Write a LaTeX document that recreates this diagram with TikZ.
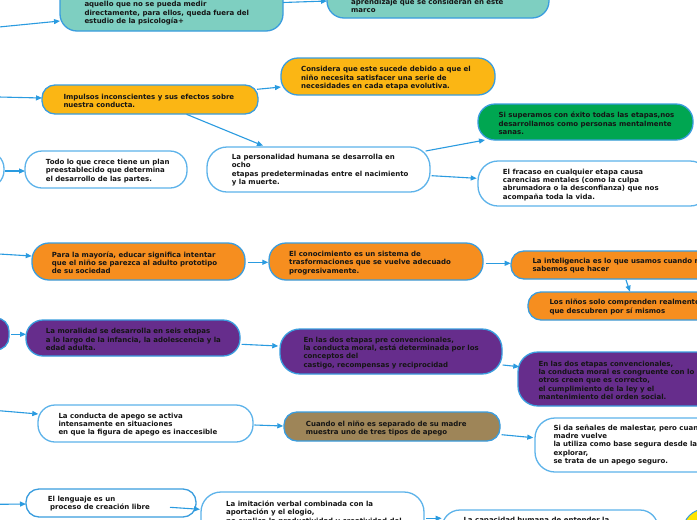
\documentclass[tikz,border=0pt]{standalone}
\usepackage{fontspec}
\setmainfont{DejaVu Sans}
\usetikzlibrary{calc,arrows.meta}
\definecolor{tealc}{HTML}{7ECFC1}
\definecolor{yelc}{HTML}{FBB614}
\definecolor{grnc}{HTML}{00A651}
\definecolor{orgc}{HTML}{F68E1F}
\definecolor{purc}{HTML}{662D8C}
\definecolor{brnc}{HTML}{9E8558}
\definecolor{bordc}{HTML}{3A9DDE}
\definecolor{lbordc}{HTML}{5DB3EA}
\definecolor{arrc}{HTML}{2A9BE0}
\definecolor{txtc}{HTML}{151515}
\definecolor{circc}{HTML}{FFE500}
\begin{document}
\begin{tikzpicture}[x=1pt,y=-1pt,
  box/.style={draw=bordc, line width=1.3pt, rectangle, rounded corners=17pt, inner sep=0pt},
  sbox/.style={box, rounded corners=13pt},
  tealbox/.style={box, fill=tealc},
  yelbox/.style={box, fill=yelc},
  grnbox/.style={box, fill=grnc},
  orgbox/.style={box, fill=orgc},
  purbox/.style={box, fill=purc},
  brnbox/.style={box, fill=brnc},
  whtbox/.style={box, draw=lbordc, fill=white},
  txt/.style={anchor=west, align=left, inner sep=0pt, font=\fontsize{7}{8.4}\selectfont\bfseries, text=txtc},
  arr/.style={draw=arrc, line width=1.1pt, -{Triangle[length=6pt,width=5pt]}}
]
\useasboundingbox (0,0) rectangle (697,520);
\fill[white] (0,0) rectangle (697,520);
\clip (0,0) rectangle (697,520);

% boxes
\node[tealbox, minimum width=223pt, minimum height=61pt] (A) at (171.5,0.5) {};
\node[tealbox, minimum width=222pt, minimum height=38pt] (B) at (438,-1) {};
\node[yelbox, minimum width=214pt, minimum height=37pt] (C) at (388,76.5) {};
\node[yelbox, sbox, minimum width=216pt, minimum height=29pt] (D) at (150,99.5) {};
\node[whtbox, minimum width=223pt, minimum height=45pt, rounded corners=20pt] (E) at (318.5,169.5) {};
\node[grnbox, minimum width=215pt, minimum height=36pt] (F) at (585.5,122) {};
\node[whtbox, minimum width=232pt, minimum height=45pt, rounded corners=20pt] (G) at (594,183.5) {};
\node[whtbox, minimum width=44pt, minimum height=36pt] (H) at (-18,169.5) {};
\node[whtbox, minimum width=162pt, minimum height=37pt] (I) at (106,169.5) {};
\node[orgbox, minimum width=213pt, minimum height=37pt] (J) at (138.5,261.5) {};
\node[orgbox, minimum width=214pt, minimum height=37pt] (K) at (376,261.5) {};
\node[orgbox, sbox, minimum width=209pt, minimum height=28pt] (L) at (615.5,265) {};
\node[orgbox, sbox, minimum width=212pt, minimum height=28pt] (M) at (634,306) {};
\node[purbox, sbox, minimum width=49pt, minimum height=32pt] (N) at (-15.5,334) {};
\node[purbox, minimum width=214pt, minimum height=36pt] (O) at (133,338) {};
\node[purbox, minimum width=222pt, minimum height=45pt, rounded corners=20pt] (P) at (391,351.5) {};
\node[purbox, minimum width=222pt, minimum height=54pt, rounded corners=20pt] (Q) at (629,379) {};
\node[whtbox, minimum width=215pt, minimum height=37pt] (R) at (145.5,423.5) {};
\node[brnbox, sbox, minimum width=216pt, minimum height=29pt] (S) at (392,426.5) {};
\node[whtbox, minimum width=205pt, minimum height=54pt, rounded corners=20pt] (T) at (637.5,445) {};
\node[whtbox, sbox, minimum width=170pt, minimum height=28pt] (U) at (111,503) {};
\node[whtbox, minimum width=223pt, minimum height=53pt, rounded corners=20pt] (V) at (312.5,518.5) {};
\node[whtbox, minimum width=216pt, minimum height=40pt, rounded corners=18pt] (W) at (550,530) {};
\node[circle, draw=bordc, line width=1pt, fill=circc, minimum size=44pt, inner sep=0pt] (X) at (705,531) {};

% texts
\node[txt] (At) at (84.3,13.2) {aquello que no se pueda medir\\directamente, para ellos, queda fuera del\\estudio de la psicología+};
\node[txt] (Bt) at (351,5.6) {aprendizaje que se consideran en este\\marco};
\node[txt] (Ct) at (301,78.2) {Considera que este sucede debido a que el\\niño necesita satisfacer una serie de\\necesidades en cada etapa evolutiva.};
\node[txt] (Dt) at (63.3,100.6) {Impulsos inconscientes y sus efectos sobre\\nuestra conducta.};
\node[txt] (Et) at (231.7,170.2) {La personalidad humana se desarrolla en\\ocho\\etapas predeterminadas entre el nacimiento\\y la muerte.};
\node[txt] (Ft) at (498.3,123.6) {Si superamos con éxito todas las etapas,nos\\desarrollamos como personas mentalmente\\sanas.};
\node[txt] (Gt) at (502.7,184.8) {El fracaso en cualquier etapa causa\\carencias mentales (como la culpa\\abrumadora o la desconfianza) que nos\\acompaña toda la vida.};
\node[txt] (It) at (45.7,170.8) {Todo lo que crece tiene un plan\\preestablecido que determina\\el desarrollo de las partes.};
\node[txt] (Jt) at (51.7,262.8) {Para la mayoría, educar significa intentar\\que el niño se parezca al adulto prototipo\\de su sociedad};
\node[txt] (Kt) at (289,262.8) {El conocimiento es un sistema de\\trasformaciones que se vuelve adecuado\\progresivamente.};
\node[txt] (Lt) at (532.3,265.3) {La inteligencia es lo que usamos cuando no\\sabemos que hacer};
\node[txt] (Mt) at (549.3,307.1) {Los niños solo comprenden realmente lo\\que descubren por sí mismos};
\node[txt] (Ot) at (45.7,339.4) {La moralidad se desarrolla en seis etapas\\a lo largo de la infancia, la adolescencia y la\\edad adulta.};
\node[txt] (Pt) at (303.3,352.8) {En las dos etapas pre convencionales,\\la conducta moral, está determinada por los\\conceptos del\\castigo, recompensas y reciprocidad};
\node[txt] (Qt) at (538.3,380.2) {En las dos etapas convencionales,\\la conducta moral es congruente con lo que\\otros creen que es correcto,\\el cumplimiento de la ley y el\\mantenimiento del orden social.};
\node[txt] (Rt) at (58.3,424.5) {La conducta de apego se activa\\intensamente en situaciones\\en que la figura de apego es inaccesible};
\node[txt] (St) at (305.7,428.6) {Cuando el niño es separado de su madre\\muestra uno de tres tipos de apego};
\node[txt] (Tt) at (553.3,445) {Si da señales de malestar, pero cuando la\\madre vuelve\\la utiliza como base segura desde la que\\explorar,\\se trata de un apego seguro.};
\node[txt] (Ut) at (47.7,503.8) {El lenguaje es un\\\hspace*{2.3pt}proceso de creación libre};
\node[txt] (Vt) at (226,512.6) {La imitación verbal combinada con la\\aportación y el elogio,\\no explica la productividad y creatividad del};
\node[txt] (Wt) at (463.3,520.6) {La capacidad humana de entender la};

% free ends
\coordinate (c1) at (-1,27);
\coordinate (c2) at (-1,97);
\coordinate (c3) at (-1,254);
\coordinate (c4) at (-1,410.7);
\coordinate (c5) at (-1,504.3);

% connectors
\draw[arr] (c1) -- ($(A.center)+(-111.5,20.5)$);
\draw[arr] ($(A.center)+(111.5,2)$) -- ($(B.center)+(-111,2)$);
\draw[arr] (c2) -- ($(D.center)+(-108,-1.5)$);
\draw[arr] ($(D.center)+(107,-10.2)$) -- ($(C.center)+(-107,10.5)$);
\draw[arr] ($(D.center)+(36.5,14.8)$) -- ($(E.center)+(-55.5,-23.8)$);
\draw[arr] ($(E.center)+(107.2,-18.5)$) -- ($(F.center)+(-100.5,18)$);
\draw[arr] ($(E.center)+(113.2,6.2)$) -- ($(G.center)+(-117.3,-5.2)$);
\draw[arr] ($(H.center)+(23,1.5)$) -- ($(I.center)+(-81,1.5)$);
\draw[arr] (c3) -- ($(J.center)+(-106.8,-5.5)$);
\draw[arr] ($(J.center)+(109.8,0.8)$) -- ($(K.center)+(-107.7,0.8)$);
\draw[arr] ($(K.center)+(109.7,1.8)$) -- ($(L.center)+(-104.8,-1.7)$);
\draw[arr] ($(L.center)+(10.5,15)$) -- ($(M.center)+(-4,-14.3)$);
\draw[arr] ($(N.center)+(26.5,0.3)$) -- ($(O.center)+(-107,-3.7)$);
\draw[arr] ($(O.center)+(108.7,6.3)$) -- ($(P.center)+(-112.7,-5.5)$);
\draw[arr] ($(P.center)+(111.7,13.5)$) -- ($(Q.center)+(-109.7,-12.3)$);
\draw[arr] (c4) -- ($(R.center)+(-107.2,-9.5)$);
\draw[arr] ($(R.center)+(108.8,1.5)$) -- ($(S.center)+(-108.7,-0.5)$);
\draw[arr] ($(S.center)+(109.7,8.2)$) -- ($(T.center)+(-104.2,-7.3)$);
\draw[arr] (c5) -- ($(U.center)+(-85,1)$);
\draw[arr] ($(U.center)+(59,4.3)$) -- ($(V.center)+(-112.5,-9.2)$);
\draw[arr] ($(V.center)+(113.5,-0.2)$) -- ($(W.center)+(-108.3,-11.7)$);
\end{tikzpicture}
\end{document}
